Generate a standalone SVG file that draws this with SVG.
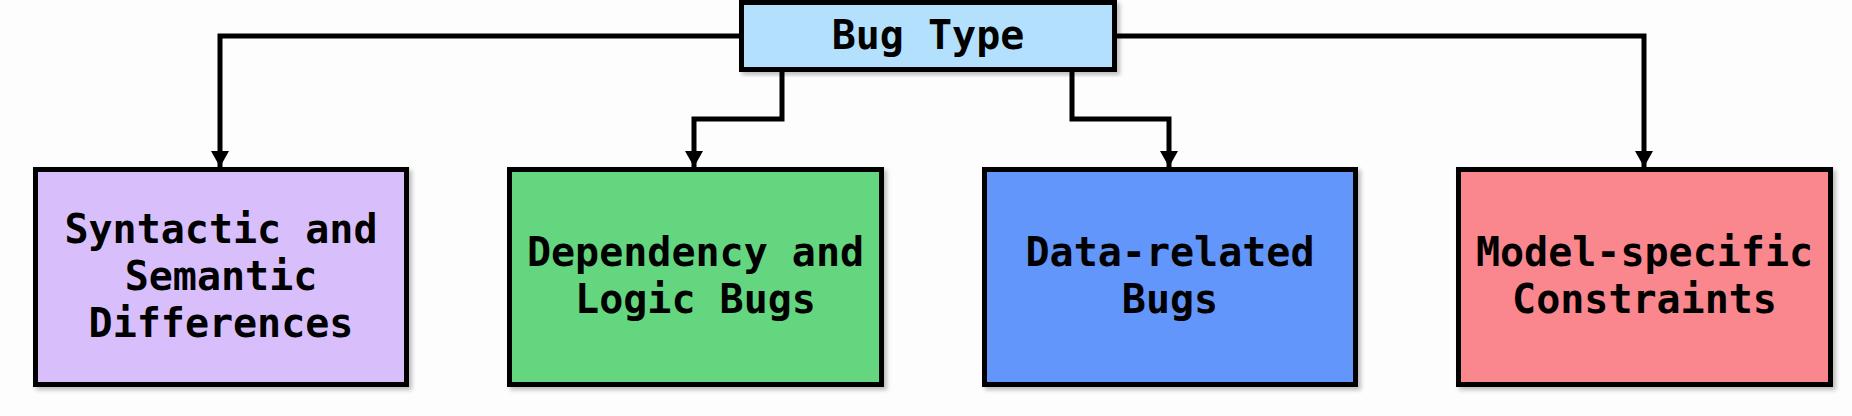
<svg xmlns="http://www.w3.org/2000/svg" width="1852" height="416" viewBox="0 0 1852 416">
  <style>
    .box { stroke: #000; stroke-width: 5; }
    .lbl { font-family: "DejaVu Sans Mono", "Liberation Mono", monospace; font-weight: bold; font-size: 40px; fill: #000; text-anchor: middle; }
    .conn { fill: none; stroke: #000; stroke-width: 5; stroke-linejoin: miter; }
  </style>
  <defs>
    <filter id="sh" x="-5%" y="-5%" width="115%" height="115%">
      <feDropShadow dx="3" dy="3" stdDeviation="2" flood-color="#000" flood-opacity="0.25"/>
    </filter>
    <marker id="arr" markerUnits="userSpaceOnUse" markerWidth="19" markerHeight="19" refX="16" refY="9" orient="auto">
      <path d="M0,0 L16,9 L0,18 Z" fill="#000"/>
    </marker>
  </defs>
  <rect width="1852" height="416" fill="#fdfdfd"/>

  <g id="connectors">
    <path class="conn" d="M741,36 H220 V167" marker-end="url(#arr)"/>
    <path class="conn" d="M782,70 V119 H694 V167" marker-end="url(#arr)"/>
    <path class="conn" d="M1072,70 V119 H1169 V167" marker-end="url(#arr)"/>
    <path class="conn" d="M1115,36 H1644 V167" marker-end="url(#arr)"/>
  </g>

  <g id="bug-type">
    <rect class="box" x="741.5" y="2.5" width="373" height="67" fill="#b3e1fd" filter="url(#sh)"/>
    <text class="lbl" x="928" y="49">Bug Type</text>
  </g>

  <g id="syntactic">
    <rect class="box" x="35.5" y="169.5" width="371" height="215" fill="#d8bffc" filter="url(#sh)"/>
    <text class="lbl" x="221" y="243">Syntactic and</text>
    <text class="lbl" x="221" y="290">Semantic</text>
    <text class="lbl" x="221" y="337">Differences</text>
  </g>

  <g id="dependency">
    <rect class="box" x="509.5" y="169.5" width="372" height="215" fill="#64d67f" filter="url(#sh)"/>
    <text class="lbl" x="695.5" y="266">Dependency and</text>
    <text class="lbl" x="695.5" y="313">Logic Bugs</text>
  </g>

  <g id="data-related">
    <rect class="box" x="984.5" y="169.5" width="371" height="215" fill="#6296fa" filter="url(#sh)"/>
    <text class="lbl" x="1170" y="266">Data-related</text>
    <text class="lbl" x="1170" y="313">Bugs</text>
  </g>

  <g id="model-specific">
    <rect class="box" x="1458.5" y="169.5" width="372" height="215" fill="#f9878d" filter="url(#sh)"/>
    <text class="lbl" x="1644.5" y="266">Model-specific</text>
    <text class="lbl" x="1644.5" y="313">Constraints</text>
  </g>
</svg>
